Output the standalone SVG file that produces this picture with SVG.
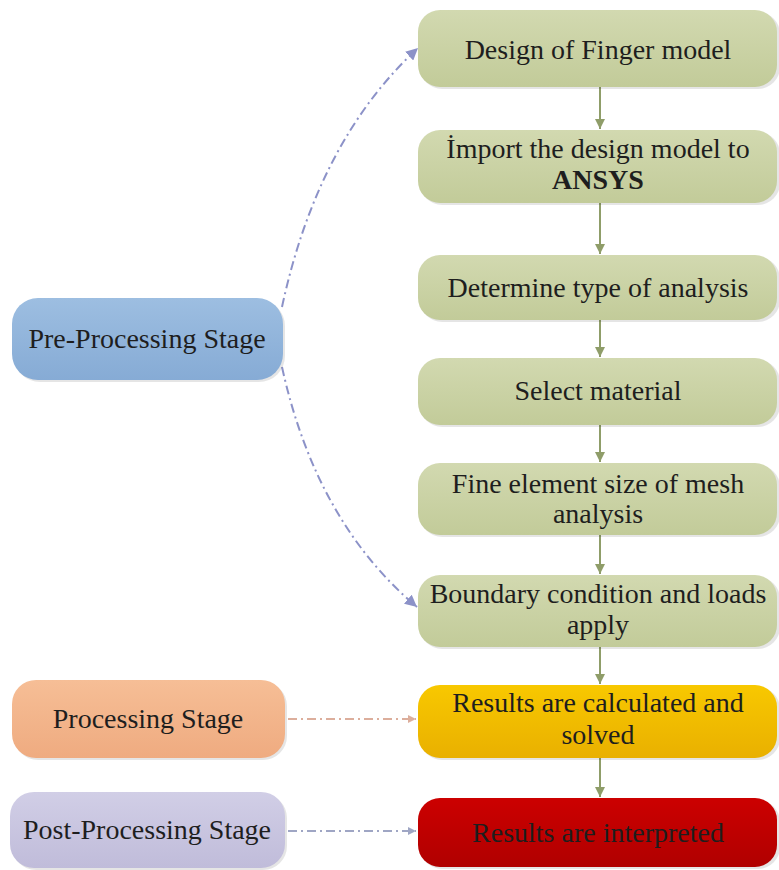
<svg xmlns="http://www.w3.org/2000/svg" width="779" height="870" viewBox="0 0 779 870">
<style>
text{font-family:"Liberation Serif","Times New Roman",serif;font-size:28px;fill:#1e1e1e;text-anchor:middle}
.sh{fill:#000;opacity:0.10}
.flow{stroke:#8f9d69;stroke-width:2;fill:none}
.dd{stroke-width:2;fill:none;stroke-dasharray:9 4 2 4}
</style>
<defs>
<linearGradient id="gG" x1="0" y1="0" x2="0" y2="1"><stop offset="0" stop-color="#d2d9b0"/><stop offset="1" stop-color="#c2cb99"/></linearGradient>
<linearGradient id="gB" x1="0" y1="0" x2="0" y2="1"><stop offset="0" stop-color="#9dbee1"/><stop offset="1" stop-color="#86abd5"/></linearGradient>
<linearGradient id="gO" x1="0" y1="0" x2="0" y2="1"><stop offset="0" stop-color="#f6be96"/><stop offset="1" stop-color="#efab80"/></linearGradient>
<linearGradient id="gL" x1="0" y1="0" x2="0" y2="1"><stop offset="0" stop-color="#d1cee6"/><stop offset="1" stop-color="#c0bcda"/></linearGradient>
<linearGradient id="gY" x1="0" y1="0" x2="0" y2="1"><stop offset="0" stop-color="#f8c800"/><stop offset="1" stop-color="#e9b000"/></linearGradient>
<linearGradient id="gR" x1="0" y1="0" x2="0" y2="1"><stop offset="0" stop-color="#cc0000"/><stop offset="1" stop-color="#b00000"/></linearGradient>
<marker id="ag" viewBox="0 0 10 10" refX="10" refY="5" markerWidth="5" markerHeight="5" orient="auto"><path d="M0,0 L10,5 L0,10 z" fill="#8f9d69"/></marker>
<marker id="ab" viewBox="0 0 10 10" refX="10" refY="5" markerWidth="6" markerHeight="6" orient="auto"><path d="M0,0 L10,5 L0,10 z" fill="#8c92c8"/></marker>
<marker id="ao" viewBox="0 0 10 10" refX="10" refY="5" markerWidth="4" markerHeight="4" orient="auto"><path d="M0,0 L10,5 L0,10 z" fill="#dcae9c"/></marker>
<marker id="ap" viewBox="0 0 10 10" refX="10" refY="5" markerWidth="4" markerHeight="4" orient="auto"><path d="M0,0 L10,5 L0,10 z" fill="#9fa6c4"/></marker>
</defs>

<g id="connectors">
<line class="flow" x1="600" y1="87" x2="600" y2="129" marker-end="url(#ag)"/>
<line class="flow" x1="600" y1="203" x2="600" y2="254" marker-end="url(#ag)"/>
<line class="flow" x1="600" y1="320" x2="600" y2="357" marker-end="url(#ag)"/>
<line class="flow" x1="600" y1="425" x2="600" y2="462" marker-end="url(#ag)"/>
<line class="flow" x1="600" y1="535" x2="600" y2="574" marker-end="url(#ag)"/>
<line class="flow" x1="600" y1="647" x2="600" y2="684" marker-end="url(#ag)"/>
<line class="flow" x1="600" y1="758" x2="600" y2="797" marker-end="url(#ag)"/>
<path class="dd" stroke="#8c92c8" d="M282,307 Q318,140 418,48" marker-end="url(#ab)"/>
<path class="dd" stroke="#8c92c8" d="M282,367 Q316,522 417,607" marker-end="url(#ab)"/>
<line class="dd" stroke="#dcae9c" x1="288" y1="719" x2="416" y2="719" marker-end="url(#ao)"/>
<line class="dd" stroke="#9fa6c4" x1="288" y1="831" x2="416" y2="831" marker-end="url(#ap)"/>
</g>

<g id="n1"><rect class="sh" x="420" y="12" width="360" height="77" rx="22"/><rect x="418" y="10" width="359" height="77" rx="22" fill="url(#gG)"/><text x="598" y="59">Design of Finger model</text></g>
<g id="n2"><rect class="sh" x="420" y="132" width="360" height="73" rx="22"/><rect x="418" y="130" width="359" height="73" rx="22" fill="url(#gG)"/><text x="598" y="158">İmport the design model to</text><text x="598" y="189" font-weight="bold">ANSYS</text></g>
<g id="n3"><rect class="sh" x="420" y="257" width="360" height="65" rx="22"/><rect x="418" y="255" width="359" height="65" rx="22" fill="url(#gG)"/><text x="598" y="297">Determine type of analysis</text></g>
<g id="n4"><rect class="sh" x="420" y="360" width="360" height="67" rx="22"/><rect x="418" y="358" width="359" height="67" rx="22" fill="url(#gG)"/><text x="598" y="400">Select material</text></g>
<g id="n5"><rect class="sh" x="420" y="465" width="360" height="72" rx="22"/><rect x="418" y="463" width="359" height="72" rx="22" fill="url(#gG)"/><text x="598" y="493">Fine element size of mesh</text><text x="598" y="523">analysis</text></g>
<g id="n6"><rect class="sh" x="420" y="577" width="360" height="72" rx="22"/><rect x="418" y="575" width="359" height="72" rx="22" fill="url(#gG)"/><text x="598" y="603">Boundary condition and loads</text><text x="598" y="634">apply</text></g>
<g id="n7"><rect class="sh" x="420" y="687" width="360" height="73" rx="22"/><rect x="418" y="685" width="359" height="73" rx="22" fill="url(#gY)"/><text x="598" y="712" fill="#2a1a00">Results are calculated and</text><text x="598" y="744" fill="#2a1a00">solved</text></g>
<g id="n8"><rect class="sh" x="420" y="800" width="360" height="69" rx="22"/><rect x="418" y="798" width="359" height="69" rx="22" fill="url(#gR)"/><text x="598" y="842" fill="#4a0505">Results are interpreted</text></g>

<g id="pre"><rect class="sh" x="14" y="300" width="271" height="82" rx="26"/><rect x="12" y="298" width="271" height="82" rx="26" fill="url(#gB)"/><text x="147" y="348" fill="#1c2636">Pre-Processing Stage</text></g>
<g id="proc"><rect class="sh" x="14" y="682" width="273" height="78" rx="24"/><rect x="12" y="680" width="273" height="78" rx="24" fill="url(#gO)"/><text x="148" y="728" fill="#2a1e16">Processing Stage</text></g>
<g id="post"><rect class="sh" x="12" y="794" width="275" height="76" rx="24"/><rect x="10" y="792" width="275" height="76" rx="24" fill="url(#gL)"/><text x="147" y="839" fill="#1e1e26">Post-Processing Stage</text></g>
</svg>
